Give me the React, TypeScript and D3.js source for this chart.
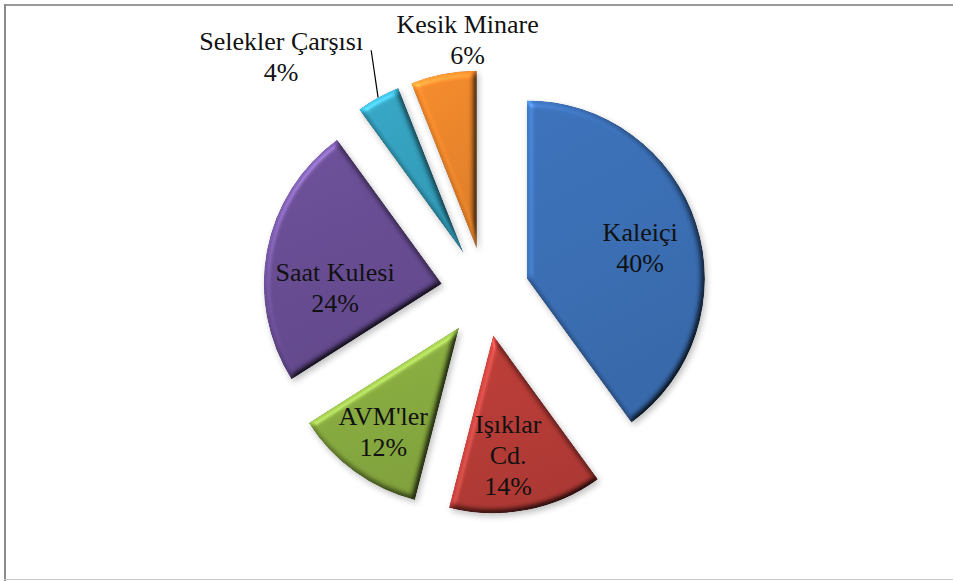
import React from "react";
import * as d3 from "d3";

const categories = ["Kaleiçi", "Işıklar Cd.", "AVM'ler", "Saat Kulesi", "Selekler Çarşısı", "Kesik Minare"];
const values = [40, 14, 12, 24, 4, 6];
const labelLines = [["Kaleiçi"], ["Işıklar", "Cd."], ["AVM'ler"], ["Saat Kulesi"], ["Selekler Çarşısı"], ["Kesik Minare"]];
const colors = ["#3a6fb6", "#b93b36", "#89ad40", "#694d95", "#34a2c0", "#ef872b"];

// label placement: radius factor & angle shift (deg) relative to slice mid-angle
const labelLayout = [
  { rf: 0.66, da: 2.7 },
  { rf: 0.68, da: 3.7 },
  { rf: 0.725, da: 0 },
  { rf: 0.6, da: -13 },
  { rf: 1.51, da: -14 },
  { rf: 1.174, da: 8.3 },
];

const W = 953;
const H = 581;
const CX = 485;
const CY = 292;
const R = 178;
const EXPLODE = 44;
const FS = 26;
const LH = 31;
const FONT = "Liberation Serif, Tinos, Times New Roman, serif";

export default function App() {
  const pie = d3.pie<number>().sort(null).value((d) => d)(values);
  const arc = d3.arc<d3.PieArcDatum<number>>().innerRadius(0).outerRadius(R);
  const total = d3.sum(values);

  return (
    <svg width={W} height={H} style={{ position: "absolute", left: 0, top: 0, background: "#fff" }}>
      <defs>
        <filter id="bevel" x="-15%" y="-15%" width="135%" height="135%" colorInterpolationFilters="sRGB">
          <feGaussianBlur in="SourceAlpha" stdDeviation="3" result="blur" />
          <feDiffuseLighting in="blur" surfaceScale="4" diffuseConstant="1" lightingColor="#ffffff" result="diff">
            <feDistantLight azimuth={225} elevation={55} />
          </feDiffuseLighting>
          <feComposite in="SourceGraphic" in2="diff" operator="arithmetic" k1={1.22} k2={0} k3={0} k4={0} result="lit" />
          <feComposite in="lit" in2="SourceAlpha" operator="in" result="litClip" />
          <feSpecularLighting in="blur" surfaceScale="4" specularConstant="0.5" specularExponent="30" lightingColor="#ffffff" result="spec">
            <feDistantLight azimuth={225} elevation={40} />
          </feSpecularLighting>
          <feComposite in="spec" in2="SourceAlpha" operator="in" result="specClip" />
          <feComposite in="litClip" in2="specClip" operator="arithmetic" k1={0} k2={1} k3={0.25} k4={0} result="final" />
          <feGaussianBlur in="SourceAlpha" stdDeviation="3" result="sb" />
          <feOffset in="sb" dx="2" dy="3" result="so" />
          <feComponentTransfer in="so" result="shadow">
            <feFuncA type="linear" slope="0.25" />
          </feComponentTransfer>
          <feMerge>
            <feMergeNode in="shadow" />
            <feMergeNode in="final" />
          </feMerge>
        </filter>
        {colors.map((c, i) => (
          <linearGradient key={i} id={`g${i}`} x1="0" y1="0" x2="0.3" y2="1">
            <stop offset="0" stopColor={d3.color(c)!.brighter(0.08).formatHex()} />
            <stop offset="1" stopColor={d3.color(c)!.darker(0.22).formatHex()} />
          </linearGradient>
        ))}
      </defs>

      {/* frame */}
      <line x1={4} y1={5} x2={W} y2={5} stroke="#9a9a9a" strokeWidth={2} />
      <line x1={5} y1={4} x2={5} y2={H} stroke="#8c8c8c" strokeWidth={2} />
      <line x1={4} y1={579.5} x2={W} y2={579.5} stroke="#c8c8c8" strokeWidth={1} />

      {pie.map((p, i) => {
        const mid = (p.startAngle + p.endAngle) / 2;
        const ox = CX + Math.sin(mid) * EXPLODE;
        const oy = CY - Math.cos(mid) * EXPLODE;
        return (
          <g key={i} transform={`translate(${ox},${oy})`}>
            <path d={arc(p) || ""} fill={`url(#g${i})`} filter="url(#bevel)" />
          </g>
        );
      })}

      {pie.map((p, i) => {
        const mid = (p.startAngle + p.endAngle) / 2;
        const ox = CX + Math.sin(mid) * EXPLODE;
        const oy = CY - Math.cos(mid) * EXPLODE;
        const lay = labelLayout[i];
        const a = mid + (lay.da * Math.PI) / 180;
        const lx = ox + Math.sin(a) * R * lay.rf;
        const ly = oy - Math.cos(a) * R * lay.rf;
        const lines = [...labelLines[i], `${Math.round((values[i] / total) * 100)}%`];
        const y0 = ly - ((lines.length - 1) * LH) / 2 + FS * 0.34;
        const outside = lay.rf > 1;
        let leader = null;
        if (outside && i === 4) {
          const ex = ox + Math.sin(mid) * R;
          const ey = oy - Math.cos(mid) * R;
          leader = <line x1={lx + 90} y1={ly - 6} x2={ex} y2={ey} stroke="#000" strokeWidth={1.2} />;
        }
        return (
          <g key={`l${i}`}>
            {leader}
            <text textAnchor="middle" fill="#111" style={{ fontFamily: FONT, fontSize: `${FS}px` }}>
              {lines.map((t, j) => (
                <tspan key={j} x={lx} y={y0 + j * LH}>
                  {t}
                </tspan>
              ))}
            </text>
          </g>
        );
      })}
    </svg>
  );
}
